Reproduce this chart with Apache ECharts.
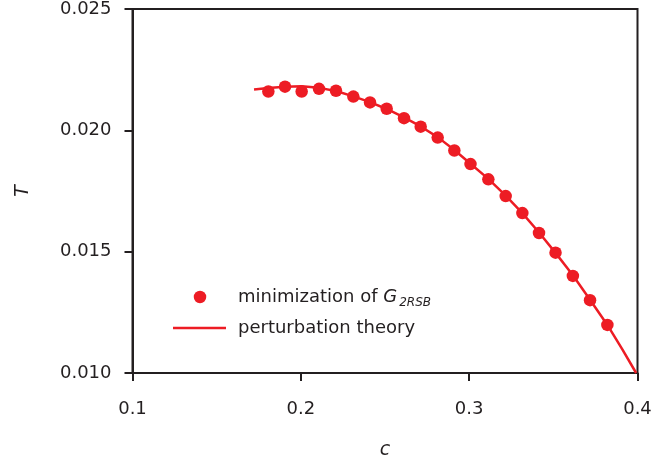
<!DOCTYPE html>
<html>
<head>
<meta charset="utf-8">
<script src="https://cdn.jsdelivr.net/npm/echarts@6/dist/echarts.min.js"></script>
<style>
html,body{margin:0;padding:0;background:#fff;}
#chart{width:656px;height:465px;}
</style>
</head>
<body>
<div id="chart"></div>
<script>
// Data
var minC = [0.1807, 0.1906, 0.2005, 0.2108, 0.2209, 0.2312, 0.2411, 0.2510, 0.2613, 0.2712, 0.2813, 0.2912, 0.3008, 0.3114, 0.3217, 0.3316, 0.3415, 0.3513, 0.3616, 0.3718, 0.3821];
var minT = [0.02160, 0.02180, 0.02160, 0.02171, 0.02163, 0.02139, 0.02115, 0.02089, 0.02050, 0.02015, 0.01970, 0.01917, 0.01861, 0.01798, 0.01729, 0.01659, 0.01577, 0.01496, 0.01400, 0.01300, 0.01198];
var pertC = [0.1722, 0.1807, 0.1906, 0.2005, 0.2108, 0.2209, 0.2312, 0.2411, 0.2510, 0.2613, 0.2712, 0.2813, 0.2912, 0.3008, 0.3114, 0.3217, 0.3316, 0.3415, 0.3513, 0.3616, 0.3718, 0.3821, 0.3910, 0.3992];
var pertT = [0.02168, 0.02174, 0.02180, 0.02182, 0.02175, 0.02162, 0.02140, 0.02116, 0.02088, 0.02053, 0.02016, 0.01972, 0.01919, 0.01862, 0.01800, 0.01731, 0.01659, 0.01579, 0.01495, 0.01403, 0.01302, 0.01198, 0.01097, 0.01000];
var xTicks = [0.1, 0.2, 0.3, 0.4];
var yTicks = [0.010, 0.015, 0.020, 0.025];
var seriesNames = ['minimization', 'perturbation theory'];

var FONT = 'DejaVu Sans';
var TXT = '#231f20';
var RED = '#ed1c24';

function zip(a, b) { return a.map(function (v, i) { return [v, b[i]]; }); }

var chart = echarts.init(document.getElementById('chart'), null, {renderer: 'canvas'});
var option = {
  animation: false,
  backgroundColor: '#fff',
  grid: {
    left: 132.5, right: 18.5, top: 8, bottom: 91,
    show: true, borderColor: TXT, borderWidth: 2, backgroundColor: 'transparent'
  },
  xAxis: {
    type: 'value', min: xTicks[0], max: xTicks[xTicks.length - 1], interval: 0.1,
    name: 'c', nameLocation: 'middle', nameGap: 68,
    nameTextStyle: {fontFamily: FONT, fontSize: 19, fontStyle: 'italic', color: TXT},
    axisLine: {show: true, onZero: false, lineStyle: {color: TXT, width: 2}},
    axisTick: {show: true, inside: false, length: 8, lineStyle: {color: TXT, width: 2}},
    axisLabel: {margin: 27, fontFamily: FONT, fontSize: 18, color: TXT,
      formatter: function (v) { return v.toFixed(1); }},
    splitLine: {show: false}
  },
  yAxis: {
    type: 'value', min: yTicks[0], max: yTicks[yTicks.length - 1], interval: 0.005,
    name: 'T', nameLocation: 'middle', nameGap: 100, nameRotate: 90,
    nameTextStyle: {fontFamily: FONT, fontSize: 19, fontStyle: 'italic', color: TXT},
    axisLine: {show: true, onZero: false, lineStyle: {color: TXT, width: 2}},
    axisTick: {show: true, inside: false, length: 8, lineStyle: {color: TXT, width: 2}},
    axisLabel: {margin: 21, fontFamily: FONT, fontSize: 18, color: TXT,
      formatter: function (v) { return v.toFixed(3); }},
    splitLine: {show: false}
  },
  legend: [
    {
      data: [{name: seriesNames[0], icon: 'circle'}],
      left: 193.75, top: 288, itemWidth: 12.5, itemHeight: 12.5, itemGap: 0, padding: 0,
      selectedMode: false,
      formatter: function () { return '{n|minimization of }{g|G}{s|2RSB}'; },
      textStyle: {
        color: TXT, fontFamily: FONT, fontSize: 18, padding: [0, 0, 0, 26.75],
        rich: {
          n: {fontFamily: FONT, fontSize: 18, color: TXT, lineHeight: 24, verticalAlign: 'middle'},
          g: {fontFamily: FONT, fontSize: 18, fontStyle: 'italic', color: TXT, lineHeight: 24, verticalAlign: 'middle'},
          s: {fontFamily: FONT, fontSize: 12, fontStyle: 'italic', color: TXT, lineHeight: 24, verticalAlign: 'bottom', padding: [0, 0, 0, 2]}
        }
      }
    },
    {
      data: [{name: seriesNames[1], icon: 'rect'}],
      left: 173, top: 319, itemWidth: 53, itemHeight: 2.5, itemGap: 0, padding: 0,
      selectedMode: false,
      textStyle: {color: TXT, fontFamily: FONT, fontSize: 18, padding: [0, 0, 0, 7]}
    }
  ],
  series: [
    {
      name: seriesNames[1], type: 'line', data: zip(pertC, pertT),
      showSymbol: false, symbol: 'none', smooth: false,
      lineStyle: {color: RED, width: 2.5}, itemStyle: {color: RED}, z: 2
    },
    {
      name: seriesNames[0], type: 'scatter', data: zip(minC, minT),
      symbol: 'circle', symbolSize: 12.5,
      itemStyle: {color: RED, opacity: 1}, z: 3
    }
  ]
};
chart.setOption(option);
</script>
</body>
</html>
